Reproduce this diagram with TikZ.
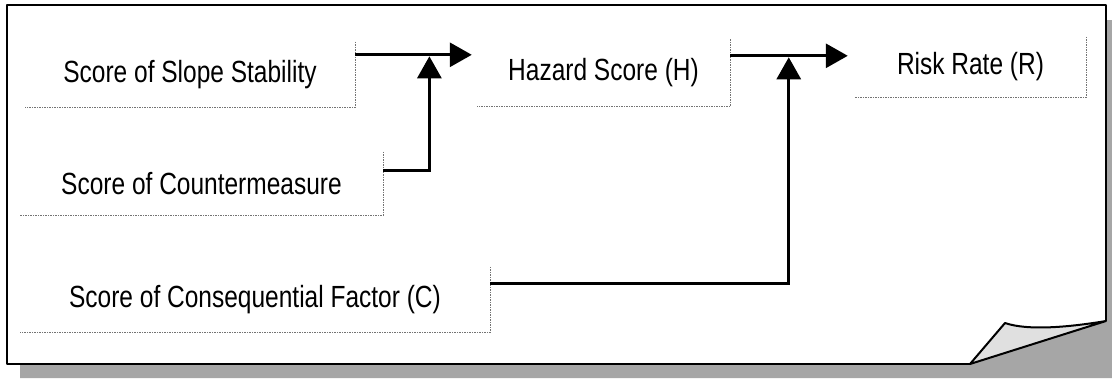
\documentclass[tikz,border=0pt]{standalone}
\usepackage{fontspec}
\usepackage{graphicx}
\setmainfont{Liberation Sans}
\usetikzlibrary{arrows.meta,calc}
\newcommand{\tallt}[1]{\scalebox{1}[1.25]{#1}}
\begin{document}
\begin{tikzpicture}[x=1pt,y=-1pt,
  boxnode/.style={draw=none,inner sep=0pt,font=\fontsize{24.5}{28}\selectfont},
  shadowedge/.style={draw=black!55,line width=0.9pt,dash pattern=on 1.5pt off 1pt},
  arr/.style={line width=3pt,-{Triangle[length=22pt,width=24pt]}},
  frame/.style={line width=2.6pt,line join=round}]
\useasboundingbox (0,0) rectangle (1112,378);
% shadow of the page
\fill[black!35] (20,364) -- (970,364) -- (1106,321) -- (1106,20) -- (1112,20) -- (1112,378) -- (20,378) -- cycle;
% page
\fill[white] (7,5) -- (1106,5) -- (1106,321) -- (970,364) -- (7,364) -- cycle;
% curled corner back
\fill[black!12] (970,364) -- (1005,323) .. controls (1028,331) and (1070,327) .. (1106,321) -- cycle;
\draw[frame] (970,364) -- (7,364) -- (7,5) -- (1106,5) -- (1106,321);
\draw[line width=2pt,line join=round] (970,364) -- (1005,323) .. controls (1028,331) and (1070,327) .. (1106,321) -- cycle;
% boxes
\node[boxnode,minimum width=330pt,minimum height=65pt] (b1) at (190,74.5) {\tallt{Score of Slope Stability}};
\node[boxnode,minimum width=363pt,minimum height=63pt] (b2) at (201.5,183.5) {\tallt{Score of Countermeasure}};
\node[boxnode,minimum width=470pt,minimum height=65pt] (b3) at (255,299.5) {\tallt{Score of Consequential Factor (C)}};
\node[boxnode,minimum width=253pt,minimum height=67pt] (h) at (603.5,73) {\tallt{Hazard Score (H)}};
\node[boxnode,minimum width=231pt,minimum height=60pt] (r) at (970.5,67) {\tallt{Risk Rate (R)}};
\foreach \n in {b1,b2,b3,h,r}{
  \draw[shadowedge] (\n.north east) -- (\n.south east) -- (\n.south west);
}
% junctions
\coordinate (j1) at ($([yshift=-13pt]b1.north east)!0.61!([yshift=-13pt]b1.north east -| h.west)$);
\coordinate (j2) at ($([yshift=-16.5pt]h.north east)!0.47!([yshift=-16.5pt]h.north east -| r.west)$);
% connectors
\draw[arr,shorten >=5pt] ([yshift=-13pt]b1.north east) -- ([yshift=-13pt]b1.north east -| h.west);
\draw[arr,shorten >=1.5pt] ([yshift=-19pt]b2.north east) -| (j1);
\draw[arr,shorten >=7pt] ([yshift=-16.5pt]h.north east) -- ([yshift=-16.5pt]h.north east -| r.west);
\draw[arr,shorten >=1.5pt] ([yshift=-17pt]b3.north east) -| (j2);
\end{tikzpicture}
\end{document}
